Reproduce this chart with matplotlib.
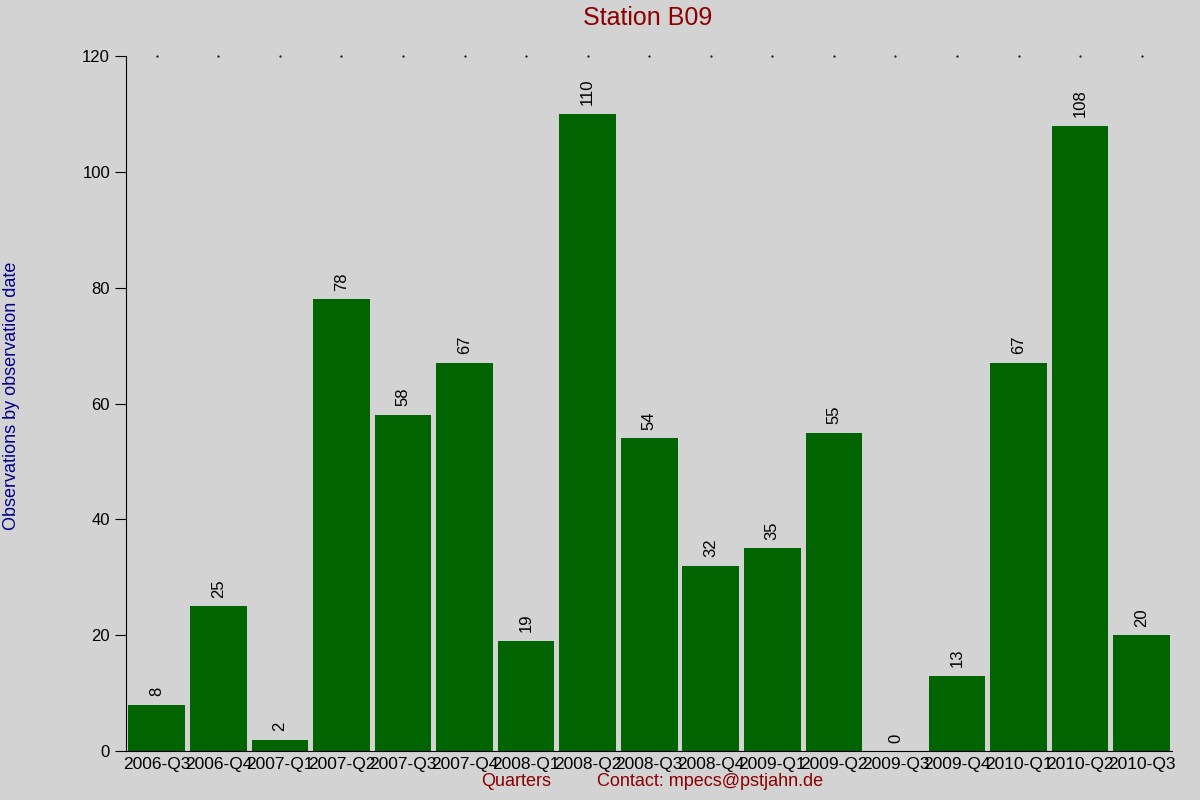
import matplotlib.pyplot as plt

quarters = ["2006-Q3", "2006-Q4", "2007-Q1", "2007-Q2", "2007-Q3", "2007-Q4",
            "2008-Q1", "2008-Q2", "2008-Q3", "2008-Q4", "2009-Q1", "2009-Q2",
            "2009-Q3", "2009-Q4", "2010-Q1", "2010-Q2", "2010-Q3"]
counts = [8, 25, 2, 78, 58, 67, 19, 110, 54, 32, 35, 55, 0, 13, 67, 108, 20]

plt.rcParams["font.family"] = ["Liberation Sans", "DejaVu Sans"]
bg = "#d3d3d3"
fig = plt.figure(figsize=(12, 8), dpi=100, facecolor=bg)
ax = fig.add_axes([0.105, 0.061, 0.872, 0.869], facecolor=bg)

x = list(range(len(quarters)))
ax.bar(x, counts, width=0.92, color="#006400")
for xi, v in zip(x, counts):
    ax.text(xi, v + 1.5, str(v), rotation=90, ha="center", va="bottom", fontsize=12)
# small dots at the top of the plot area
ax.scatter(x, [120] * len(x), s=0.3, color="black", clip_on=False)

ax.set_xlim(-0.5, len(x) - 0.5)
ax.set_ylim(0, 120)
ax.set_yticks(range(0, 121, 20))
ax.set_xticks(x)
ax.set_xticklabels(quarters, fontsize=12.5)
ax.tick_params(axis="y", labelsize=12, length=8)
ax.tick_params(axis="x", length=0, pad=4)
for s in ["top", "right"]:
    ax.spines[s].set_visible(False)

fig.text(0.54, 0.978, "Station B09", color="#8b0000", fontsize=18, ha="center", va="center")
fig.text(0.01, 0.505, "Observations by observation date", color="#00008b", fontsize=13,
         rotation=90, ha="center", va="center")
fig.text(0.43, 0.017, "Quarters", color="#8b0000", fontsize=13, ha="center")
fig.text(0.592, 0.017, "Contact: mpecs@pstjahn.de", color="#8b0000", fontsize=13, ha="center")

fig.savefig("out.png", dpi=100, facecolor=bg)
